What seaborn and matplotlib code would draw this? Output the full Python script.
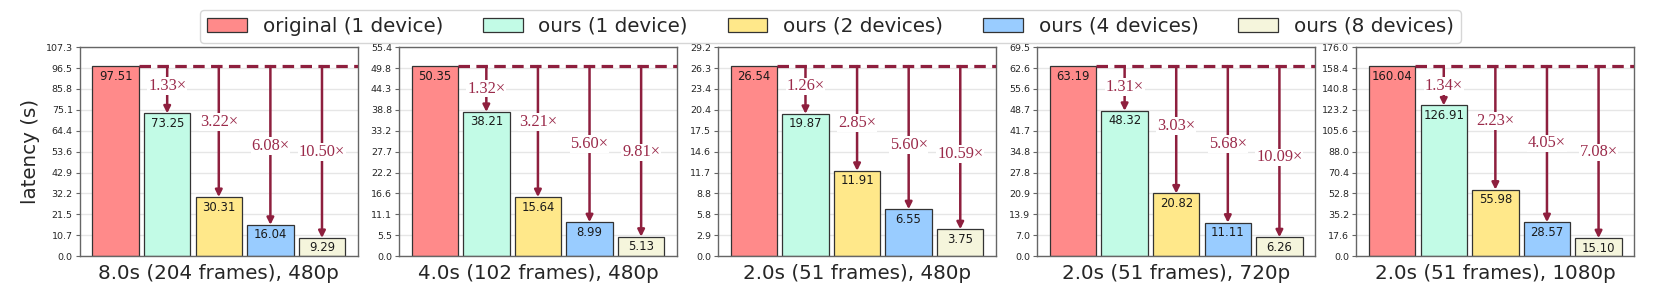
import numpy as np
import pandas as pd
import seaborn as sns
import matplotlib
matplotlib.use("Agg")
import matplotlib.pyplot as plt
import matplotlib.transforms as mtransforms
from matplotlib.patches import Patch

# ---------------- data ----------------
configs = ["original (1 device)", "ours (1 device)", "ours (2 devices)",
           "ours (4 devices)", "ours (8 devices)"]
panel_titles = ["8.0s (204 frames), 480p", "4.0s (102 frames), 480p",
                "2.0s (51 frames), 480p", "2.0s (51 frames), 720p",
                "2.0s (51 frames), 1080p"]
lat_8s_480 = [97.51, 73.25, 30.31, 16.04, 9.29]
lat_4s_480 = [50.35, 38.21, 15.64, 8.99, 5.13]
lat_2s_480 = [26.54, 19.87, 11.91, 6.55, 3.75]
lat_2s_720 = [63.19, 48.32, 20.82, 11.11, 6.26]
lat_2s_1080 = [160.04, 126.91, 55.98, 28.57, 15.10]
speedup_8s_480 = ["1.33", "3.22", "6.08", "10.50"]
speedup_4s_480 = ["1.32", "3.21", "5.60", "9.81"]
speedup_2s_480 = ["1.26", "2.85", "5.60", "10.59"]
speedup_2s_720 = ["1.31", "3.03", "5.68", "10.09"]
speedup_2s_1080 = ["1.34", "2.23", "4.05", "7.08"]

latencies = [lat_8s_480, lat_4s_480, lat_2s_480, lat_2s_720, lat_2s_1080]
speedups = [speedup_8s_480, speedup_4s_480, speedup_2s_480, speedup_2s_720, speedup_2s_1080]

# ---------------- layout / style ----------------
label_yfrac = [
    [0.815, 0.643, 0.528, 0.499],
    [0.802, 0.643, 0.536, 0.496],
    [0.812, 0.638, 0.531, 0.488],
    [0.810, 0.623, 0.536, 0.472],
    [0.815, 0.647, 0.539, 0.496],
]
palette = ["#FF8A8A", "#C2FBE6", "#FFE88A", "#99CCFF", "#F5F5DC"]
accent = "#8E1F3E"
text_accent = "#9A2A4A"
edge = "#333333"

sns.set_style("whitegrid", {"axes.edgecolor": "0.4", "grid.color": "0.9",
                            "ytick.left": True, "xtick.bottom": False})
plt.rcParams["font.family"] = ["DejaVu Sans"]

fig, axes = plt.subplots(1, 5, figsize=(16.61, 2.91), dpi=100)
fig.subplots_adjust(left=0.048, right=0.984, top=0.838, bottom=0.12, wspace=0.1475)

for k, ax in enumerate(axes):
    vals = latencies[k]
    df = pd.DataFrame({"config": configs, "latency": vals})
    sns.barplot(data=df, x="config", y="latency", hue="config", order=configs,
                hue_order=configs, palette=palette, width=0.9, edgecolor=edge,
                linewidth=0.9, saturation=1, legend=False, ax=ax, zorder=2)
    orig = vals[0]
    ymax = orig * 1.1
    ax.set_ylim(0, ymax)
    xl = (-0.695, 4.695)
    ax.set_xlim(*xl)
    ticks = np.linspace(0, ymax, 11)
    ax.set_yticks(ticks)
    ax.set_yticklabels([f"{t:.1f}" for t in ticks], fontsize=6.8, color="0.15")
    ax.tick_params(axis="y", length=3, width=0.8, color="0.4", pad=2)
    ax.set_xticks([])
    ax.grid(axis="x", visible=False)
    ax.grid(axis="y", color="0.9", linewidth=1.0, zorder=0)
    ax.set_axisbelow(True)
    for s in ax.spines.values():
        s.set_linewidth(1.0)
        s.set_color("0.4")
    ax.set_xlabel(panel_titles[k], fontsize=14.3, labelpad=6)
    ax.set_ylabel("latency (s)" if k == 0 else "", fontsize=14.3)

    # dashed baseline
    ax.plot([0.45, xl[1]], [orig, orig], color=accent, lw=2.3,
            linestyle=(0, (3.6, 2.0)), zorder=3, solid_capstyle="butt")

    # value labels
    for i, v in enumerate(vals):
        ax.annotate(f"{v:.2f}", xy=(i, v), xytext=(0, -2.5), textcoords="offset points",
                    ha="center", va="top", fontsize=8.4, color="0.1", zorder=5)

    # arrows + speedup text
    trans = mtransforms.blended_transform_factory(ax.transData, ax.transAxes)
    for j in range(1, 5):
        ax.annotate("", xy=(j, vals[j]), xytext=(j, orig),
                    arrowprops=dict(arrowstyle="-|>", color=accent, lw=1.8,
                                    mutation_scale=10, shrinkA=0, shrinkB=0),
                    zorder=4)
        ax.text(j, label_yfrac[k][j - 1], f"{speedups[k][j - 1]}×", transform=trans,
                ha="center", va="center", fontsize=11.8, color=text_accent,
                family=["Liberation Serif", "DejaVu Serif"], zorder=6,
                bbox=dict(facecolor="white", edgecolor="none", pad=0.6))

handles = [Patch(facecolor=c, edgecolor=edge, linewidth=0.9) for c in palette]
fig.legend(handles, configs, loc="upper center", ncol=5, fontsize=14.3,
           bbox_to_anchor=(0.5, 1.0), frameon=True, borderpad=0.35)

fig.savefig("out.png", dpi=100)
